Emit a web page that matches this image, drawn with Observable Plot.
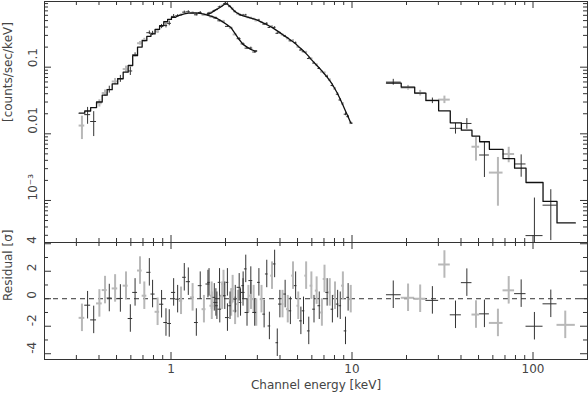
<!DOCTYPE html>
<html><head><meta charset="utf-8">
<script src="https://cdn.jsdelivr.net/npm/d3@7"></script>
<script src="https://cdn.jsdelivr.net/npm/@observablehq/plot@0.6"></script>
<style>
html,body{margin:0;padding:0;background:#fff;}
#wrap{position:relative;width:588px;height:394px;overflow:hidden;}
#topPanel,#botPanel{position:absolute;left:0;}
#topPanel{top:0;} #botPanel{top:242px;}
svg{overflow:visible;}
</style></head><body><div id="wrap"><div id="topPanel"></div><div id="botPanel"></div></div>
<script>
// ---------- Spectrum A (low-energy instrument) ----------
const aEnergy = [0.322,0.346,0.374,0.402,0.432,0.456,0.491,0.525,0.564,0.596,0.633,0.674,0.712,0.759,0.791,0.843,0.887,0.938,0.978,1.034,1.088,1.136,1.184,1.246,1.316,1.38,1.45,1.52,1.60,1.68,1.77,1.86,1.95,2.05,2.15,2.26,2.38,2.50,2.63,2.76,2.90];
const aModel = [0.0204,0.022,0.0248,0.030,0.038,0.046,0.056,0.067,0.084,0.106,0.149,0.20,0.25,0.29,0.315,0.37,0.42,0.48,0.52,0.56,0.59,0.61,0.63,0.645,0.65,0.65,0.64,0.625,0.60,0.58,0.55,0.51,0.47,0.43,0.39,0.32,0.26,0.22,0.20,0.185,0.175];
const aFlux = [0.0133,0.0194,0.0153,0.0288,0.0409,0.0463,0.0610,0.0672,0.0936,0.0877,0.1538,0.2287,0.2539,0.3290,0.3225,0.3454,0.4082,0.4219,0.4545,0.578,0.5893,0.6063,0.6693,0.677,0.6526,0.6106,0.6613,0.6084,0.6225,0.5697,0.5448,0.4964,0.4876,0.4094,0.3863,0.3101,0.2675,0.2235,0.193,0.1935,0.1689];
const aErr = [0.0051,0.0055,0.0062,0.0036,0.0046,0.0055,0.0067,0.008,0.0101,0.0127,0.0104,0.014,0.0175,0.0203,0.022,0.0259,0.0294,0.0336,0.0364,0.039,0.0236,0.0244,0.0252,0.0258,0.026,0.0228,0.0224,0.0219,0.021,0.0203,0.0193,0.0179,0.0165,0.0151,0.0137,0.0112,0.0091,0.0077,0.007,0.0065,0.0061];
const aResid = [-1.39,-0.47,-1.54,-0.34,0.63,0.05,0.75,0.02,0.95,-1.44,0.46,2.05,0.22,1.92,0.34,-0.95,-0.40,-1.73,-1.80,0.46,-0.03,-0.15,1.56,1.24,0.10,-1.73,0.95,-0.76,1.07,-0.51,-0.27,-0.76,1.07,-1.37,-0.27,-0.88,0.83,0.46,-1.00,1.32,-1.00];
const aShade = "gkkggkgkgkkggkkgkkkkkgkkgkkgkgkkgkggkkkkk";

// ---------- Spectrum B (mid-energy instrument) ----------
const bEnergy = [1.622,1.677,1.734,1.793,1.854,1.917,1.982,2.049,2.118,2.190,2.265,2.342,2.421,2.503,2.588,2.676,2.767,2.861,2.958,3.059,3.162,3.269,3.381,3.495,3.614,3.737,3.864,3.995,4.130,4.271,4.416,4.566,4.721,4.881,5.047,5.218,5.395,5.578,5.768,5.964,6.166,6.376,6.592,6.816,7.047,7.287,7.534,7.790,8.054,8.328,8.610,8.903,9.204,9.517,9.840];
const bModel = [0.63,0.66,0.70,0.74,0.78,0.83,0.89,0.88,0.82,0.74,0.68,0.64,0.61,0.59,0.575,0.56,0.545,0.53,0.515,0.495,0.475,0.455,0.435,0.415,0.395,0.372,0.35,0.33,0.31,0.29,0.275,0.255,0.24,0.225,0.205,0.19,0.175,0.16,0.145,0.13,0.118,0.107,0.097,0.088,0.079,0.071,0.063,0.055,0.047,0.040,0.033,0.027,0.022,0.018,0.0145];
const bFlux = [0.6488,0.6636,0.7018,0.7306,0.8032,0.8346,0.8949,0.9062,0.8095,0.7530,0.6795,0.6338,0.6059,0.6040,0.6062,0.5596,0.548,0.5296,0.5021,0.5097,0.4746,0.4423,0.4546,0.3945,0.4116,0.3955,0.322,0.3268,0.307,0.2925,0.2698,0.2483,0.2521,0.2314,0.2019,0.1808,0.1704,0.1681,0.1348,0.1337,0.1153,0.1089,0.0955,0.0854,0.0824,0.0725,0.0643,0.0531,0.0475,0.0393,0.0322,0.0282,0.0197,0.0181,0.0145];
const bErr = [0.0158,0.0165,0.0175,0.0185,0.0195,0.0208,0.0223,0.022,0.0205,0.0185,0.017,0.016,0.0153,0.0148,0.0144,0.014,0.0136,0.0133,0.0129,0.0124,0.0119,0.0114,0.0109,0.0104,0.0099,0.0093,0.0088,0.0083,0.0078,0.0073,0.0069,0.0077,0.0072,0.0068,0.0062,0.0057,0.0053,0.0048,0.0044,0.0039,0.0035,0.0032,0.0029,0.0026,0.0024,0.0032,0.0028,0.0025,0.0021,0.0018,0.0015,0.0012,0.001,0.0008,0.00065];
const bResid = [1.19,0.22,0.10,-0.51,1.19,0.22,0.22,1.19,-0.51,0.70,-0.03,-0.39,-0.27,0.95,2.17,-0.03,0.22,-0.03,-1.00,1.19,-0.03,-1.12,1.80,-1.98,1.68,2.53,-3.20,-0.39,-0.39,0.34,-0.76,-0.88,1.68,0.95,-0.51,-1.61,-0.88,1.68,-2.34,0.95,-0.76,0.59,-0.51,-1.00,1.44,0.46,0.46,-0.76,0.22,-0.39,-0.51,0.95,-2.34,0.10,-0.03];
const bShade = "kgkkkgkkkgkgkkkggggkgkkkgkkkgkgkgkgkkgkgkgkggkgkgkkgkkg";

// ---------- Spectrum C (hard X-ray instrument) ----------
const cEdges = [15.5,18.7,22.2,25.6,30.1,34.9,40.2,46.0,50.7,57.4,68.3,79.1,91.5,113.6,135.7,171.3];
const cEnergy = [16.9,20.4,23.8,27.8,32.4,37.3,43.1,48.4,53.9,64.0,73.4,86.0,101.8,125.4,150.7];
const cModel = [0.0577,0.0503,0.0409,0.0318,0.0221,0.0146,0.01135,0.00924,0.0076,0.00585,0.00424,0.00305,0.00186,0.000967,0.00046];
const cFlux = [0.0597,0.0493,0.0409,0.0314,0.0326,0.0121,0.0143,0.0064,0.00481,0.00262,0.00498,0.00353,0.000297,0.00085,0.00012];
const cErr = [0.006,0.004,0.004,0.003,0.0042,0.0022,0.0026,0.0025,0.0026,0.0018,0.0013,0.0013,0.00079,0.0006,0.0001];
const cResid = [0.29,0.07,0.0,-0.12,2.49,-1.17,1.17,-1.15,-1.10,-1.76,0.61,0.37,-2.0,-0.37,-1.9];
const cShade = "kggkgkkgkggkkkg";

// ---------- ticks & labels ----------
const xMajor = [1,10,100];
const xMajorText = ["1","10","100"];
const xMinor = [0.2,0.3,0.4,0.5,0.6,0.7,0.8,0.9,2,3,4,5,6,7,8,9,20,30,40,50,60,70,80,90,200];
const yMajor = [0.001,0.01,0.1];
const yMajorText = ["10\u207B\u00B3","0.01","0.1"];
const yMinor = [3e-4,4e-4,5e-4,6e-4,7e-4,8e-4,9e-4,0.002,0.003,0.004,0.005,0.006,0.007,0.008,0.009,0.02,0.03,0.04,0.05,0.06,0.07,0.08,0.09,0.2,0.3,0.4,0.5,0.6,0.7,0.8,0.9];
const rMajor = [-4,-2,0,2,4];
const rMajorText = ["-4","-2","0","2","4"];
const rMinor = [-3,-1,1,3];
const yTitle = "[counts/sec/keV]";
const rTitle = "Residual [\u03C3]";
const xTitle = "Channel energy [keV]";

// ---------- build rows ----------
function rowsFrom(E, M, D, S, R, shade, edges) {
  const n = E.length;
  const lo = [], hi = [];
  if (edges) { for (let i = 0; i < n; i++) { lo.push(edges[i]); hi.push(edges[i+1]); } }
  else {
    const mid = [];
    for (let i = 0; i < n - 1; i++) mid.push(Math.sqrt(E[i] * E[i+1]));
    for (let i = 0; i < n; i++) {
      lo.push(i === 0 ? E[0] * E[0] / mid[0] : mid[i-1]);
      hi.push(i === n - 1 ? E[n-1] * E[n-1] / mid[n-2] : mid[i]);
    }
  }
  return E.map((e, i) => ({E: e, lo: lo[i], hi: hi[i], m: M[i], d: D[i], s: S[i], r: R[i], shade: shade[i]}));
}
const rowsA = rowsFrom(aEnergy, aModel, aFlux, aErr, aResid, aShade);
const rowsB = rowsFrom(bEnergy, bModel, bFlux, bErr, bResid, bShade);
const rowsC = rowsFrom(cEnergy, cModel, cFlux, cErr, cResid, cShade, cEdges);
const allRows = [...rowsA, ...rowsB, ...rowsC];
// histogram steps below stepLimit keV, a continuous line above it (finely binned model)
function modelPath(rows, stepLimit) {
  const p = [];
  rows.forEach((r, i) => {
    if (r.E < stepLimit) { p.push({x: r.lo, y: r.m}); p.push({x: r.hi, y: r.m}); }
    else {
      if (i === 0) p.push({x: r.lo, y: r.m});
      p.push({x: r.E, y: r.m});
      if (i === rows.length - 1) p.push({x: r.hi, y: r.m});
    }
  });
  return p;
}

const FONT = "DejaVu Sans";
const TXT = "#444";
const AX = "#333";
const BLK = "#333";
const GRY = "#b8b8b8";
const W = 588, ML = 44, MR = 1;
const IW = W - ML - MR;
const topH = 242, topMT = 1;
const topIH = topH - topMT;
const botH = 152, botMB = 35;
const botIH = botH - botMB;
const yDom = [2.34e-4, 0.967];
const rDom = [-4.42, 4.09];
const MAJ = 7, MIN = 4;

function frameTicks(IH, yMaj, yMin) {
  return [
    Plot.tickX(xMajor, {x: d => d, insetBottom: IH - MAJ, stroke: AX}),
    Plot.tickX(xMinor, {x: d => d, insetBottom: IH - MIN, stroke: AX}),
    Plot.tickX(xMajor, {x: d => d, insetTop: IH - MAJ, stroke: AX}),
    Plot.tickX(xMinor, {x: d => d, insetTop: IH - MIN, stroke: AX}),
    Plot.tickY(yMaj, {y: d => d, insetRight: IW - MAJ, stroke: AX}),
    Plot.tickY(yMin, {y: d => d, insetRight: IW - MIN, stroke: AX}),
    Plot.tickY(yMaj, {y: d => d, insetLeft: IW - MAJ, stroke: AX}),
    Plot.tickY(yMin, {y: d => d, insetLeft: IW - MIN, stroke: AX}),
    Plot.frame({stroke: AX, strokeWidth: 1})
  ];
}

function crossesTop(rows, color, sw) {
  return [
    Plot.ruleY(rows, {y: "d", x1: "lo", x2: "hi", stroke: color, strokeWidth: sw}),
    Plot.ruleX(rows, {x: "E", y1: r => Math.max(r.d - r.s, yDom[0]), y2: r => Math.min(r.d + r.s, yDom[1]), stroke: color, strokeWidth: sw})
  ];
}
function crossesRes(rows, color, sw) {
  return [
    Plot.ruleY(rows, {y: "r", x1: "lo", x2: "hi", stroke: color, strokeWidth: sw}),
    Plot.ruleX(rows, {x: "E", y1: r => r.r - 1, y2: r => r.r + 1, stroke: color, strokeWidth: sw})
  ];
}
const visibleRows = allRows.filter(r => r.d >= yDom[0]);
const gTop = visibleRows.filter(r => r.shade === "g"), kTop = visibleRows.filter(r => r.shade === "k");
const gAll = allRows.filter(r => r.shade === "g"), kAll = allRows.filter(r => r.shade === "k");

const topPlot = Plot.plot({
  width: W, height: topH, marginLeft: ML, marginRight: MR, marginTop: topMT, marginBottom: 0,
  x: {type: "log", domain: [0.2, 200], axis: null},
  y: {type: "log", domain: yDom, axis: null},
  style: {overflow: "visible", background: "transparent"},
  marks: [
    ...crossesTop(gTop, GRY, 2),
    ...crossesTop(kTop, BLK, 1),
    Plot.line(modelPath(rowsA, 1.05), {x: "x", y: "y", stroke: "#111", strokeWidth: 1.3}),
    Plot.line(modelPath(rowsB, 0), {x: "x", y: "y", stroke: "#111", strokeWidth: 1.3}),
    Plot.line(modelPath(rowsC, 1000), {x: "x", y: "y", stroke: "#111", strokeWidth: 1.3}),
    ...frameTicks(topIH, yMajor, yMinor),
    Plot.text(yMajor, {y: d => d, text: (d, i) => yMajorText[i], frameAnchor: "left", dx: -11, rotate: -90, fontSize: 12, fontFamily: FONT, fill: TXT}),
    Plot.text([yTitle], {frameAnchor: "left", dx: -36, rotate: -90, fontSize: 12, fontFamily: FONT, fill: TXT})
  ]
});

const botPlot = Plot.plot({
  width: W, height: botH, marginLeft: ML, marginRight: MR, marginTop: 0, marginBottom: botMB,
  x: {type: "log", domain: [0.2, 200], axis: null},
  y: {domain: rDom, axis: null},
  style: {overflow: "visible", background: "transparent"},
  marks: [
    Plot.ruleY([0], {stroke: AX, strokeDasharray: "5,4", strokeWidth: 1}),
    ...crossesRes(gAll, GRY, 2),
    ...crossesRes(kAll, BLK, 1),
    ...frameTicks(botIH, rMajor, rMinor),
    Plot.text(rMajor, {y: d => d, text: (d, i) => rMajorText[i], frameAnchor: "left", dx: -12, rotate: -90, fontSize: 12, fontFamily: FONT, fill: TXT}),
    Plot.text([rTitle], {frameAnchor: "left", dx: -36, rotate: -90, fontSize: 12, fontFamily: FONT, fill: TXT}),
    Plot.text(xMajor, {x: d => d, text: (d, i) => xMajorText[i], frameAnchor: "bottom", dy: 13, fontSize: 12, fontFamily: FONT, fill: TXT}),
    Plot.text([xTitle], {frameAnchor: "bottom", dy: 29, fontSize: 12, fontFamily: FONT, fill: TXT})
  ]
});

document.getElementById("topPanel").appendChild(topPlot);
document.getElementById("botPanel").appendChild(botPlot);
</script></body></html>
